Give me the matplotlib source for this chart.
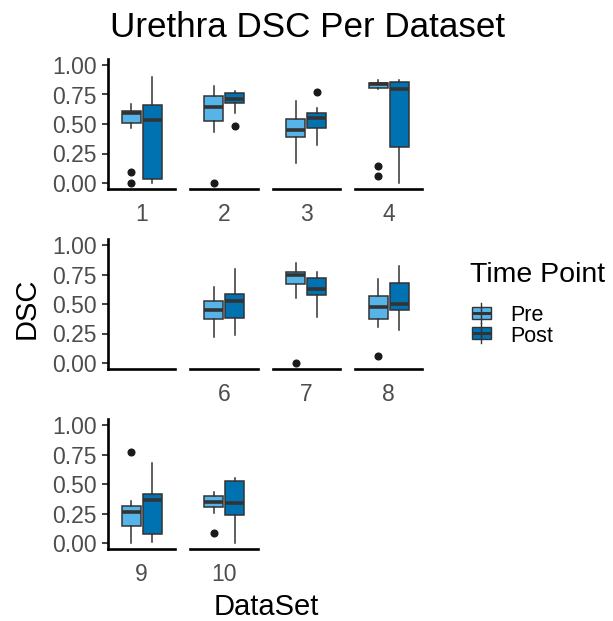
import matplotlib
matplotlib.use("Agg")
import matplotlib.pyplot as plt
from matplotlib.patches import Rectangle
from matplotlib.lines import Line2D

plt.rcParams['font.family'] = ['Liberation Sans', 'DejaVu Sans']

# ---------------- data (box statistics) ----------------
datasets = ["1", "2", "3", "4", "5", "6", "7", "8", "9", "10"]
time_points = ["Pre", "Post"]

pre_whislo = [0.47, 0.435, 0.167, 0.794, None, 0.217, 0.549, 0.304, 0.0, 0.257]
pre_q1     = [0.51, 0.528, 0.387, 0.805, None, 0.377, 0.670, 0.372, 0.148, 0.304]
pre_med    = [0.59, 0.647, 0.449, 0.836, None, 0.445, 0.746, 0.478, 0.260, 0.349]
pre_q3     = [0.61, 0.735, 0.540, 0.850, None, 0.527, 0.774, 0.571, 0.318, 0.402]
pre_whishi = [0.67, 0.825, 0.695, 0.873, None, 0.648, 0.850, 0.715, 0.357, 0.433]
pre_fliers = [[0.096, 0.0], [0.0], [], [0.147, 0.062], [], [], [0.0], [0.056], [0.768], [0.086]]

post_whislo = [0.0, 0.59, 0.322, 0.0, None, 0.237, 0.394, 0.281, 0.008, 0.0]
post_q1     = [0.03, 0.68, 0.469, 0.305, None, 0.380, 0.575, 0.445, 0.073, 0.237]
post_med    = [0.534, 0.715, 0.548, 0.800, None, 0.527, 0.625, 0.501, 0.366, 0.340]
post_q3     = [0.66, 0.765, 0.590, 0.853, None, 0.583, 0.724, 0.676, 0.419, 0.528]
post_whishi = [0.895, 0.78, 0.633, 0.873, None, 0.797, 0.769, 0.825, 0.679, 0.550]
post_fliers = [[], [0.483], [0.771], [], [], [], [], [], [], []]

y_ticks = [0.0, 0.25, 0.5, 0.75, 1.0]
y_ticklabels = ["0.00", "0.25", "0.50", "0.75", "1.00"]

title = "Urethra DSC Per Dataset"
x_title = "DataSet"
y_title = "DSC"
legend_title = "Time Point"

colors = {"Pre": "#56B4E9", "Post": "#0072B2"}
edge = "#333333"
tick_col = "#4D4D4D"

W, H = 613, 621
fig = plt.figure(figsize=(W / 100, H / 100), dpi=100)


def px_axes(left, top, width, height):
    return fig.add_axes([left / W, 1 - (top + height) / H, width / W, height / H])


col_left = [108 + i * 82.33 for i in range(4)]
row_top = [59.1, 239.1, 419.2]
pw, ph = 67.5, 129.8

stats_by_tp = {
    "Pre": (pre_whislo, pre_q1, pre_med, pre_q3, pre_whishi, pre_fliers),
    "Post": (post_whislo, post_q1, post_med, post_q3, post_whishi, post_fliers),
}
positions = {"Pre": 0.8125, "Post": 1.1875}

for k, ds in enumerate(datasets):
    r, c = divmod(k, 4)
    ax = px_axes(col_left[c], row_top[r], pw, ph)
    ax.set_xlim(0.4, 1.6)
    ax.set_ylim(-0.05, 1.05)
    has_data = pre_med[k] is not None
    if has_data:
        for tp in time_points:
            wl, q1, md, q3, wh, fl = stats_by_tp[tp]
            st = [dict(whislo=wl[k], q1=q1[k], med=md[k], q3=q3[k], whishi=wh[k], fliers=fl[k])]
            ax.bxp(st, positions=[positions[tp]], widths=0.3375, patch_artist=True,
                   showcaps=False, manage_ticks=False,
                   boxprops=dict(facecolor=colors[tp], edgecolor=edge, linewidth=1.1),
                   medianprops=dict(color=edge, linewidth=2.6, solid_capstyle='butt'),
                   whiskerprops=dict(color=edge, linewidth=1.1),
                   flierprops=dict(marker='o', markerfacecolor='#1a1a1a', markeredgecolor='#1a1a1a',
                                   markersize=4.8, linestyle='none'))
        ax.set_xticks([1.0])
        ax.set_xticklabels([ds])
    else:
        ax.set_xticks([])
    for s in ["top", "right"]:
        ax.spines[s].set_visible(False)
    ax.spines["bottom"].set_linewidth(1.9)
    ax.spines["bottom"].set_color("black")
    ax.tick_params(axis='x', length=0, pad=10, labelsize=16.5, labelcolor=tick_col)
    if c == 0:
        ax.spines["left"].set_linewidth(1.9)
        ax.spines["left"].set_color("black")
        ax.set_yticks(y_ticks)
        ax.set_yticklabels(y_ticklabels)
        ax.tick_params(axis='y', length=4.5, width=1.3, color=edge, pad=3.5,
                       labelsize=16.5, labelcolor=tick_col)
    else:
        ax.spines["left"].set_visible(False)
        ax.set_yticks([])
    ax.patch.set_alpha(0)

# titles
fig.text(308 / W, 1 - 37 / H, title, ha='center', va='baseline', fontsize=25.2, color='black')
fig.text(266 / W, 1 - 615 / H, x_title, ha='center', va='baseline', fontsize=21, color='black')
fig.text(35 / W, 1 - 308 / H, y_title, ha='center', va='baseline', rotation=90,
         rotation_mode='anchor', fontsize=21, color='black')

# legend (drawn in pixel coordinates)
lax = fig.add_axes([0, 0, 1, 1])
lax.set_xlim(0, W)
lax.set_ylim(H, 0)
lax.axis('off')
lax.text(470, 282, legend_title, ha='left', va='baseline', fontsize=20.5, color='black')
key_centers = {"Pre": 312.5, "Post": 332.5}
label_base = {"Pre": 321.0, "Post": 341.5}
for tp in time_points:
    cy = key_centers[tp]
    lax.add_line(Line2D([481, 481], [cy - 10, cy + 10], color=edge, lw=1.0))
    lax.add_patch(Rectangle((471.5, cy - 6), 19, 12, facecolor=colors[tp], edgecolor=edge, lw=1.0))
    lax.add_line(Line2D([471.5, 490.5], [cy, cy], color=edge, lw=2.2, solid_capstyle='butt'))
    lax.text(510, label_base[tp], tp, ha='left', va='baseline', fontsize=15.5, color='black')

fig.savefig("out.png", dpi=100)
